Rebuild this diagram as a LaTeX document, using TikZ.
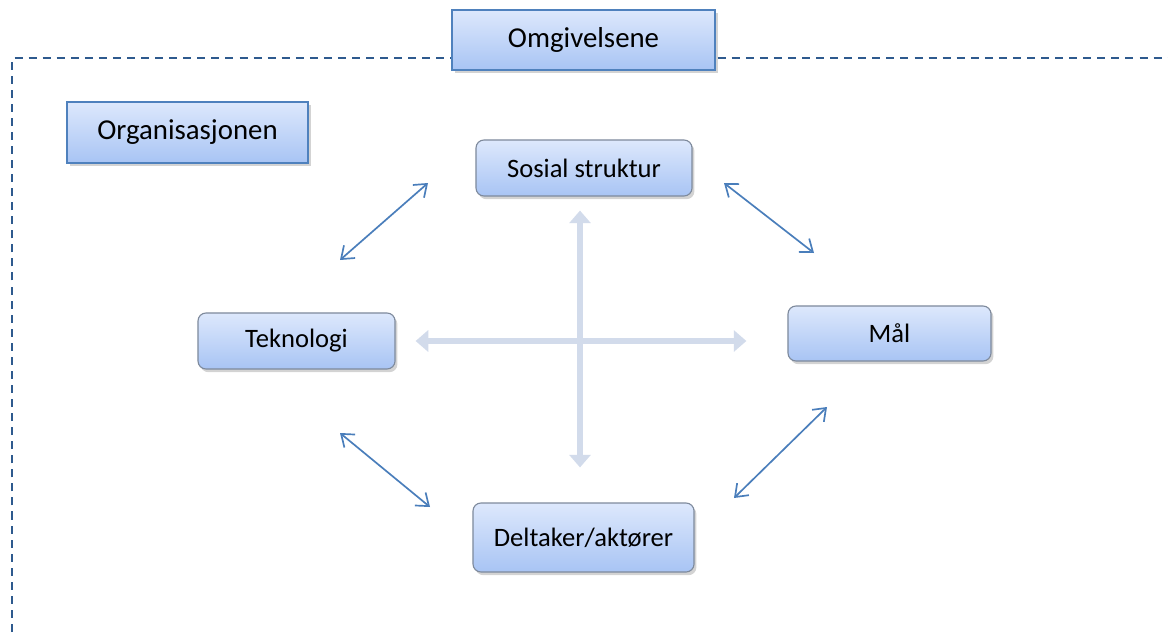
\documentclass[tikz,border=0pt]{standalone}
\usepackage{fontspec}
\setmainfont{Carlito}
\usetikzlibrary{positioning, arrows.meta, shadows}

\definecolor{boxtop}{HTML}{DDE8FC}
\definecolor{boxbottom}{HTML}{A8C4F4}
\definecolor{boxedge}{HTML}{4F81BD}
\definecolor{roundedge}{HTML}{7E8A9C}
\definecolor{frameblue}{HTML}{2E5A8E}
\definecolor{linkblue}{HTML}{4A7EBB}
\definecolor{crossgray}{HTML}{D2DBEB}

\begin{document}
\begin{tikzpicture}[x=0.025cm, y=-0.025cm,
    sharpbox/.style={draw=boxedge, line width=1.4pt, top color=boxtop, bottom color=boxbottom,
        drop shadow={shadow xshift=0.8mm, shadow yshift=-0.8mm, opacity=0.35},
        font=\fontsize{20.5}{24}\selectfont},
    roundbox/.style={draw=roundedge, line width=0.8pt, rounded corners=0.2cm,
        top color=boxtop, bottom color=boxbottom,
        drop shadow={shadow xshift=0.6mm, shadow yshift=-0.8mm, opacity=0.35},
        font=\fontsize{18.9}{22}\selectfont},
    link/.style={linkblue, line width=1.2pt, {Straight Barb[length=8pt, width=12pt]}-{Straight Barb[length=8pt, width=12pt]}},
    cross/.style={crossgray, line width=4pt, {Triangle[length=9pt, width=15pt]}-{Triangle[length=9pt, width=15pt]}}]

    \useasboundingbox (0,0) rectangle (1168,632);

    % Frame
    \draw[frameblue, line width=1.4pt, dash pattern=on 5.7pt off 4.3pt] (12,632) -- (12,58) -- (1168,58);

    % Labels
    \node[sharpbox, minimum width=6.575cm, minimum height=1.5cm] (omg) at (583.5,40) {Omgivelsene};
    \node[sharpbox, minimum width=6.025cm, minimum height=1.525cm] (org) at (187.5,132.5) {Organisasjonen};

    % Elements
    \node[roundbox, minimum width=5.4cm, minimum height=1.4cm] (sos) at (584,168) {Sosial struktur};
    \node[roundbox, minimum width=4.925cm, minimum height=1.4cm] (tek) at (296.5,341) {Teknologi};
    \node[roundbox, minimum width=5.075cm, minimum height=1.375cm] (mal) at (889.5,333.5) {Mål};
    \node[roundbox, minimum width=5.525cm, minimum height=1.725cm] (del) at (583.5,537.5) {Deltaker/aktører};

    % Cross
    \draw[cross, shorten <=0.35cm, shorten >=0.875cm] (sos.south -| 580,0) -- (del.north -| 580,0);
    \draw[cross, shorten <=0.5cm, shorten >=1.025cm] (tek.east |- 0,341) -- (mal.west |- 0,341);

    % Links
    \coordinate (tk1) at (340,260);
    \coordinate (ss1) at (428,183);
    \coordinate (ss2) at (724,183);
    \coordinate (ml1) at (814,253);
    \coordinate (tk2) at (340,433);
    \coordinate (dl1) at (430,507);
    \coordinate (ml2) at (827,407);
    \coordinate (dl2) at (734,498);
    \draw[link] (tk1) -- (ss1);
    \draw[link] (ss2) -- (ml1);
    \draw[link] (tk2) -- (dl1);
    \draw[link] (ml2) -- (dl2);
\end{tikzpicture}
\end{document}
